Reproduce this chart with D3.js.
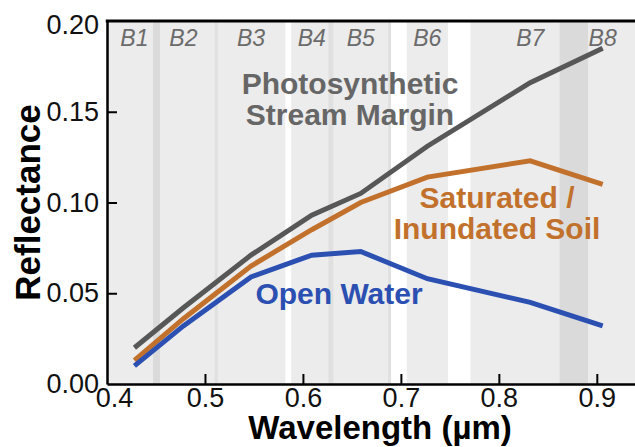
<!DOCTYPE html>
<html>
<head>
<meta charset="utf-8">
<script src="https://cdn.jsdelivr.net/npm/d3@7"></script>
<style>
  body { margin: 0; background: #fff; }
  svg text { font-family: "Liberation Sans", Arial, sans-serif; }
</style>
</head>
<body>
<div class="chart"></div>
<script>
// band names and where each sits on the wavelength axis (µm)
const bandNames = ["B1", "B2", "B3", "B4", "B5", "B6", "B7", "B8"];
const bandCenters = [0.428, 0.478, 0.547, 0.609, 0.659, 0.727, 0.832, 0.906];

// reflectance per band
const streamMargin = [0.020, 0.042, 0.071, 0.093, 0.105, 0.131, 0.166, 0.185];
const saturatedSoil = [0.013, 0.036, 0.065, 0.085, 0.100, 0.114, 0.123, 0.110];
const openWater = [0.010, 0.032, 0.059, 0.071, 0.073, 0.058, 0.045, 0.032];

// spectral coverage shading: [from, to, kind]
const shading = [
  [0.447, 0.454, "dark"],
  [0.510, 0.513, "line"],
  [0.582, 0.588, "gap"],
  [0.626, 0.631, "line"],
  [0.687, 0.690, "line"],
  [0.690, 0.706, "gap"],
  [0.748, 0.771, "gap"],
  [0.862, 0.891, "dark"]
];

const xTicks = [0.4, 0.5, 0.6, 0.7, 0.8, 0.9];
const yTicks = [0, 0.05, 0.10, 0.15, 0.20];

const W = 635, H = 447;
const svg = d3.select(".chart").append("svg")
    .attr("width", W)
    .attr("height", H);

const x = d3.scaleLinear().domain([0.4, 0.94]).range([107, 636]);
const y = d3.scaleLinear().domain([0, 0.2]).range([384, 21]);

const shadeColor = { dark: "#dadada", line: "#e0e0e0", gap: "#ffffff" };

// plot background
svg.append("rect")
    .attr("x", x(0.4)).attr("y", y(0.2))
    .attr("width", x(0.94) - x(0.4))
    .attr("height", y(0) - y(0.2))
    .attr("fill", "#ececec");

svg.selectAll(".shade")
    .data(shading)
    .enter().append("rect")
    .attr("class", "shade")
    .attr("x", d => x(d[0]))
    .attr("y", y(0.2))
    .attr("width", d => x(d[1]) - x(d[0]))
    .attr("height", y(0) - y(0.2))
    .attr("fill", d => shadeColor[d[2]]);

// band labels along the top
svg.selectAll(".band")
    .data(bandNames)
    .enter().append("text")
    .attr("class", "band")
    .attr("x", (d, i) => x(bandCenters[i]))
    .attr("y", 46)
    .attr("text-anchor", "middle")
    .style("font-size", "23px")
    .style("font-style", "italic")
    .style("fill", "#6b6b6b")
    .text(d => d);

// lines
const series = [
  { name: "stream", values: streamMargin, color: "#575757" },
  { name: "soil", values: saturatedSoil, color: "#c2712c" },
  { name: "water", values: openWater, color: "#2b50b2" }
];

const line = d3.line()
    .x((d, i) => x(bandCenters[i]))
    .y(d => y(d));

svg.selectAll(".series")
    .data(series)
    .enter().append("path")
    .attr("class", "series")
    .attr("d", d => line(d.values))
    .attr("fill", "none")
    .attr("stroke", d => d.color)
    .attr("stroke-width", 5);

// series labels
function label(lines, cx, y0, color) {
  const t = svg.append("text")
      .attr("text-anchor", "middle")
      .style("font-size", "30px")
      .style("font-weight", "bold")
      .style("fill", color);
  lines.forEach((s, i) => {
    t.append("tspan").attr("x", cx).attr("y", y0 + i * 31).text(s);
  });
}
label(["Photosynthetic", "Stream Margin"], 350, 94, "#666666");
label(["Saturated /", "Inundated Soil"], 497, 208, "#c2712c");
label(["Open Water"], 339, 304, "#2b50b2");

// axes
const xAxis = d3.axisBottom(x)
    .tickValues(xTicks)
    .tickSizeInner(-10)
    .tickSizeOuter(0)
    .tickPadding(4)
    .tickFormat(d3.format(".1f"));

const yAxis = d3.axisLeft(y)
    .tickValues(yTicks)
    .tickSizeInner(-10)
    .tickSizeOuter(0)
    .tickPadding(8)
    .tickFormat(d3.format(".2f"));

const gx = svg.append("g")
    .attr("transform", `translate(0,${y(0)})`)
    .call(xAxis);
const gy = svg.append("g")
    .attr("transform", `translate(${x(0.4)},0)`)
    .call(yAxis);

[gx, gy].forEach(g => {
  g.select(".domain").attr("stroke", "#000").attr("stroke-width", 2.5);
  g.selectAll(".tick line").attr("stroke", "#000").attr("stroke-width", 2);
  g.selectAll(".tick text")
      .style("font-size", "27px")
      .style("font-family", "'Liberation Sans', Arial, sans-serif")
      .attr("fill", "#111");
});
gx.selectAll(".tick text").attr("dy", "0.71em");
gx.selectAll(".tick").filter(d => d === 0.4).select("text").attr("dx", 7);
gx.selectAll(".tick").filter(d => d === 0.4).select("line").remove();
gy.selectAll(".tick").filter(d => d === 0 || d === 0.2).select("line").remove();
gy.selectAll(".tick").filter(d => d === 0.2).select("text").attr("dy", "0.45em");

// top frame line
svg.append("line")
    .attr("x1", x(0.4) - 1.25).attr("x2", W)
    .attr("y1", y(0.2)).attr("y2", y(0.2))
    .attr("stroke", "#000").attr("stroke-width", 3);

// axis titles
svg.append("text")
    .attr("transform", `translate(40,${(y(0) + y(0.2)) / 2}) rotate(-90)`)
    .attr("text-anchor", "middle")
    .style("font-size", "35px")
    .style("font-weight", "bold")
    .text("Reflectance");

svg.append("text")
    .attr("x", 380)
    .attr("y", 439)
    .attr("text-anchor", "middle")
    .style("font-size", "33px")
    .style("font-weight", "bold")
    .text("Wavelength (µm)");
</script>
</body>
</html>
